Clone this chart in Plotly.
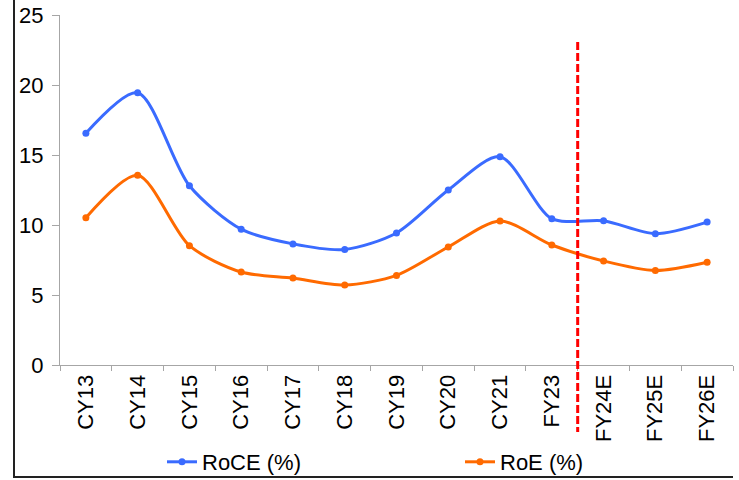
import plotly.graph_objects as go

# Return ratios by fiscal/calendar year
years = ["CY13", "CY14", "CY15", "CY16", "CY17", "CY18", "CY19",
         "CY20", "CY21", "FY23", "FY24E", "FY25E", "FY26E"]
roce = [16.55, 19.45, 12.8, 9.7, 8.65, 8.25, 9.43, 12.5, 14.88, 10.45, 10.3, 9.38, 10.21]
roe = [10.52, 13.55, 8.52, 6.64, 6.21, 5.71, 6.4, 8.43, 10.29, 8.57, 7.43, 6.75, 7.34]

# Boundary between actuals and estimates (category position)
estimate_split = 9.5

fig = go.Figure()
fig.add_trace(go.Scatter(
    x=years, y=roce, name="RoCE (%)", mode="lines+markers", legend="legend",
    line=dict(color="#3a6bff", width=3, shape="spline", smoothing=0.8),
    marker=dict(size=7, color="#3a6bff"),
))
fig.add_trace(go.Scatter(
    x=years, y=roe, name="RoE (%)", mode="lines+markers", legend="legend2",
    line=dict(color="#ff6a00", width=3, shape="spline", smoothing=0.8),
    marker=dict(size=7, color="#ff6a00"),
))

font = dict(family="Liberation Sans, Arial, sans-serif", size=22, color="#000000")

# plot area spans 60..733 px horizontally and 15..365 px vertically
def px_x(p):
    return (p - 60) / 673

def px_y(p):
    return (365 - p) / 350

legend_common = dict(orientation="h", yanchor="middle", xanchor="left", font=font,
                     bgcolor="rgba(0,0,0,0)", y=px_y(462))

fig.update_layout(
    width=739, height=480,
    margin=dict(l=60, r=6, t=15, b=115, autoexpand=False),
    paper_bgcolor="white", plot_bgcolor="white",
    font=font,
    showlegend=True,
    legend=dict(legend_common, x=px_x(162)),
    legend2=dict(legend_common, x=px_x(460)),
    xaxis=dict(
        type="category", range=[-0.5, 12.5], automargin=False,
        showline=True, linecolor="#a6a6a6", linewidth=1,
        ticks="outside", tickson="boundaries", ticklen=5, tickcolor="#a6a6a6",
        tickangle=-90, tickfont=font, showgrid=False, zeroline=False,
    ),
    yaxis=dict(
        range=[0, 25], dtick=5, automargin=False,
        showline=True, linecolor="#a6a6a6", linewidth=1,
        ticks="outside", ticklen=7, tickcolor="#a6a6a6", ticklabelstandoff=4,
        tickfont=font, showgrid=False, zeroline=False,
    ),
    shapes=[
        # actual / estimate divider
        dict(type="line", xref="x", yref="paper", x0=estimate_split, x1=estimate_split,
             y0=px_y(42), y1=px_y(432),
             line=dict(color="#ff0000", width=3, dash="8px,3px")),
        # frame lines on the left and bottom
        dict(type="line", xref="paper", yref="paper",
             x0=px_x(14), x1=px_x(14), y0=px_y(-2), y1=px_y(478),
             line=dict(color="#222222", width=2)),
        dict(type="line", xref="paper", yref="paper",
             x0=px_x(14), x1=px_x(733), y0=px_y(477), y1=px_y(477),
             line=dict(color="#222222", width=2)),
    ],
)

fig.write_html("out.html")
